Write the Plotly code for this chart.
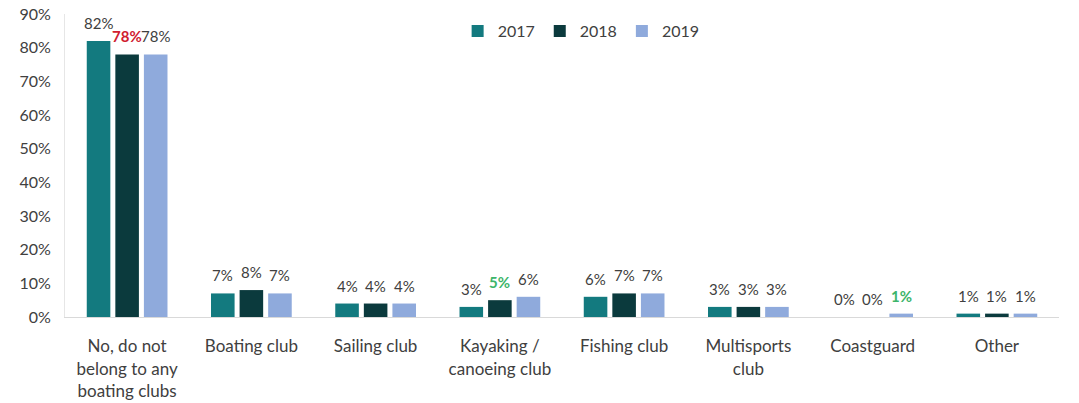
import plotly.graph_objects as go

categories = [
    "No, do not<br>belong to any<br>boating clubs",
    "Boating club",
    "Sailing club",
    "Kayaking /<br>canoeing club",
    "Fishing club",
    "Multisports<br>club",
    "Coastguard",
    "Other",
]
years = ["2017", "2018", "2019"]
values_2017 = [82, 7, 4, 3, 6, 3, 0, 1]
values_2018 = [78, 8, 4, 5, 7, 3, 0, 1]
values_2019 = [78, 7, 4, 6, 7, 3, 1, 1]

# labels emphasised with a colour: (year index, category index) -> colour
highlights = {(1, 0): "#D0202F", (1, 3): "#3DB56A", (2, 6): "#3DB56A"}

colors = ["#137A7F", "#0B3A3D", "#8FAADC"]
series = [values_2017, values_2018, values_2019]

WIDTH, HEIGHT = 1079, 403
MARGIN = dict(l=65, r=20, t=14, b=86)
BARGAP = 0.31
BARGROUPGAP = 0.175

fig = go.Figure()
for name, vals, col in zip(years, series, colors):
    fig.add_trace(go.Bar(
        name=name,
        x=categories,
        y=[v / 100 for v in vals],
        marker=dict(color=col, line=dict(width=0)),
        hovertemplate="%{y:.0%}<extra>" + name + "</extra>",
    ))

# value labels above each bar, offset to the bar's slot inside its group
plot_w = WIDTH - MARGIN["l"] - MARGIN["r"]
slot_px = plot_w / len(categories) * (1 - BARGAP) / len(years)
for yi, vals in enumerate(series):
    for ci, v in enumerate(vals):
        hl = highlights.get((yi, ci))
        txt = f"<b>{v}%</b>" if hl else f"{v}%"
        fig.add_annotation(
            x=categories[ci], y=v / 100,
            text=txt, showarrow=False,
            xshift=(yi - 1) * slot_px, yshift=7,
            yanchor="bottom", xanchor="center",
            font=dict(size=15, color=hl or "#404040"),
        )

fig.update_layout(
    barmode="group",
    bargap=BARGAP,
    bargroupgap=BARGROUPGAP,
    width=WIDTH,
    height=HEIGHT,
    margin=MARGIN,
    paper_bgcolor="white",
    plot_bgcolor="white",
    font=dict(family="Lato, Calibri, sans-serif", size=15, color="#404040"),
    legend=dict(
        orientation="h",
        x=0.395, y=1.0, xanchor="left", yanchor="top",
        font=dict(size=16, color="#404040"),
        itemwidth=30,
        traceorder="normal",
        bgcolor="rgba(0,0,0,0)",
    ),
    xaxis=dict(
        automargin=False,
        showline=True, linecolor="#D9D9D9", linewidth=1,
        ticks="", tickfont=dict(size=17, color="#404040"),
        ticklabelstandoff=14,
        showgrid=False,
    ),
    yaxis=dict(
        automargin=False,
        range=[0, 0.9], dtick=0.1, tickformat=".0%",
        showgrid=False, zeroline=False,
        showline=True, linecolor="#E6E6E6", linewidth=1,
        ticks="", ticklabelstandoff=10,
        tickfont=dict(size=16, color="#404040"),
    ),
)

fig.write_html("out.html")
